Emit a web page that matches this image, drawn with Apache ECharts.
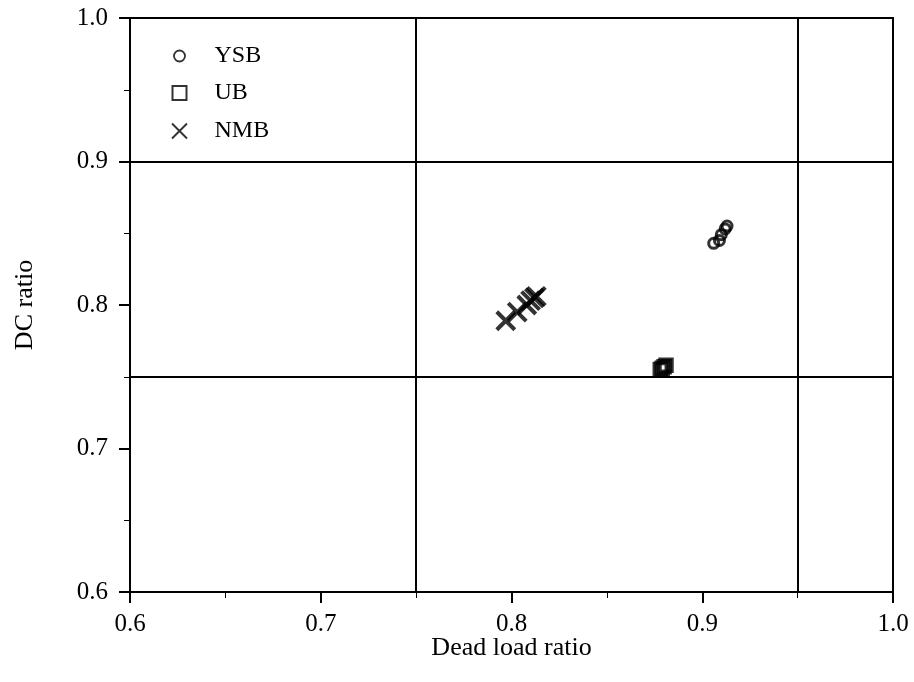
<!DOCTYPE html>
<html><head><meta charset="utf-8">
<script src="https://cdn.jsdelivr.net/npm/echarts@6/dist/echarts.min.js"></script>
<style>html,body{margin:0;padding:0;background:#fff}#c{width:914px;height:682px}</style>
</head><body><div id="c"></div>
<script>
const ysb = [[0.906,0.843],[0.909,0.845],[0.910,0.849],[0.912,0.853],[0.913,0.855]];
const ub = [[0.878,0.755],[0.879,0.756],[0.880,0.757],[0.881,0.758]];
const nmb = [[0.797,0.789],[0.803,0.795],[0.808,0.800],[0.810,0.803],[0.812,0.805],[0.813,0.806]];
const refX = [0.75, 0.95];
const refY = [0.9, 0.75];
const seriesNames = ['YSB','UB','NMB'];
const xTitle = 'Dead load ratio';
const yTitle = 'DC ratio';

const font = 'Liberation Serif';
const crossPath = 'path://M0,0L10,10M0,10L10,0';
const chart = echarts.init(document.getElementById('c'));
const axisCommon = {
  min: 0.6, max: 1.0, interval: 0.1,
  nameLocation: 'middle',
  nameMoveOverlap: false,
  nameTextStyle: {fontFamily: font, fontSize: 26, color: '#000'},
  axisLine: {show: true, lineStyle: {color: '#000', width: 2}},
  axisTick: {show: true, inside: false, length: 11, lineStyle: {color: '#000', width: 2}},
  minorTick: {show: true, splitNumber: 2, length: 6, lineStyle: {color: '#000', width: 1}},
  splitLine: {show: false},
  axisLabel: {fontFamily: font, fontSize: 25, color: '#000', formatter: v => v.toFixed(1)}
};
const legendText = {fontFamily: font, fontSize: 24, color: '#000'};
const legendTextX = 212;
function mkLegend(name, icon, w, h, cx, cy, itemStyle) {
  return {orient: 'vertical', left: cx - w / 2, top: cy - 13, itemWidth: w, itemHeight: h,
    selectedMode: false, padding: 0,
    textStyle: Object.assign({}, legendText, {padding: [0, 0, 0, Math.max(0, legendTextX - (cx + w / 2) - 5)]}),
    data: [{name: name, icon: icon, itemStyle: itemStyle}]};
}
chart.setOption({
  animation: false,
  grid: {left: 130, right: 21, top: 18, bottom: 90, show: true, borderColor: '#000', borderWidth: 2},
  xAxis: Object.assign({}, axisCommon, {name: xTitle, nameGap: 43,
    axisLabel: Object.assign({}, axisCommon.axisLabel, {margin: 20})}),
  yAxis: Object.assign({}, axisCommon, {name: yTitle, nameGap: 92,
    axisLabel: Object.assign({}, axisCommon.axisLabel, {margin: 22})}),
  legend: [
    mkLegend(seriesNames[0], 'circle', 11, 11, 177, 57, {color: 'none', borderColor: '#000', borderWidth: 1.8}),
    mkLegend(seriesNames[1], 'rect', 14, 14, 177, 94, {color: 'none', borderColor: '#000', borderWidth: 2}),
    mkLegend(seriesNames[2], crossPath, 15, 15, 177, 132, {color: 'none', borderColor: '#000', borderWidth: 2})
  ],
  series: [
    {name: seriesNames[0], type: 'scatter', data: ysb, symbol: 'circle', symbolSize: 10,
     itemStyle: {color: 'none', borderColor: '#000', borderWidth: 3},
     markLine: {silent: true, symbol: 'none', label: {show: false},
       lineStyle: {color: '#000', width: 2, type: 'solid'},
       data: refX.map(v => ({xAxis: v})).concat(refY.map(v => ({yAxis: v})))}},
    {name: seriesNames[1], type: 'scatter', data: ub, symbol: 'rect', symbolSize: 12,
     itemStyle: {color: 'none', borderColor: '#000', borderWidth: 3.5}},
    {name: seriesNames[2], type: 'scatter', data: nmb, symbol: crossPath, symbolSize: 18,
     itemStyle: {color: 'none', borderColor: '#000', borderWidth: 4}}
  ]
});
</script></body></html>
